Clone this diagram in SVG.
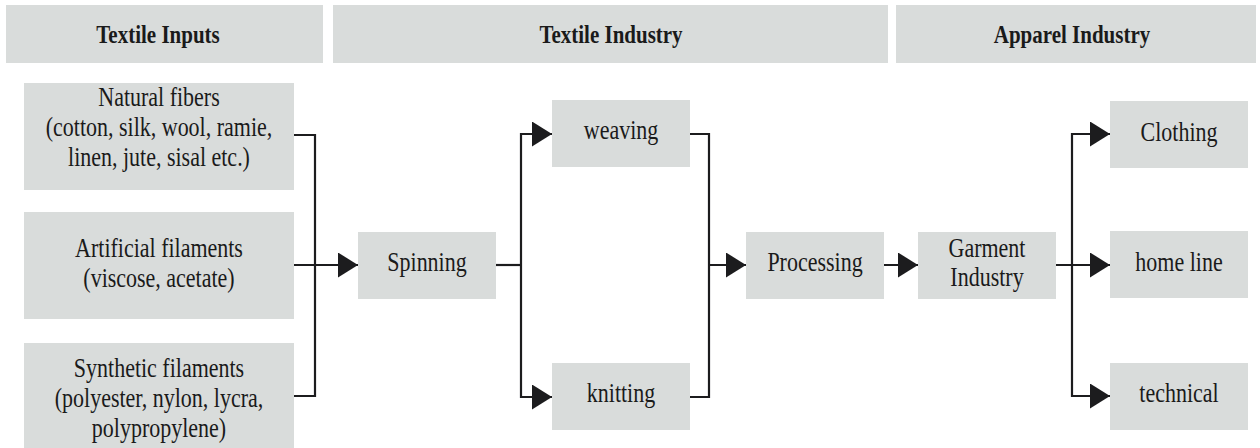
<svg xmlns="http://www.w3.org/2000/svg" width="1260" height="448" viewBox="0 0 1260 448">
<style>
.box{fill:#d9dcdb}
text{font-family:'Liberation Serif','Tinos','DejaVu Serif',serif;fill:#1a1a1a;text-anchor:middle}
.t{font-size:22px}
.h{font-size:21px;font-weight:bold}
.c{fill:none;stroke:#1c1c1e;stroke-width:2.2}
.a{marker-end:url(#arr)}
</style>
<defs>
<marker id="arr" markerUnits="userSpaceOnUse" markerWidth="20" markerHeight="25" refX="20" refY="12.5" orient="auto">
<path d="M0,0 L20,12.5 L0,25 z" fill="#1c1c1e"/>
</marker>
</defs>
<rect width="1260" height="448" fill="#ffffff"/>
<g id="hdr-inputs"><rect class="box" x="6" y="5" width="317" height="58"/><text class="h" font-family="Liberation Serif, serif" transform="translate(158 43) scale(1 1.22)">Textile Inputs</text></g>
<g id="hdr-textile"><rect class="box" x="333" y="5" width="555" height="58"/><text class="h" transform="translate(611 43) scale(1 1.22)">Textile Industry</text></g>
<g id="hdr-apparel"><rect class="box" x="896" y="5" width="360" height="58"/><text class="h" transform="translate(1072 43) scale(1 1.22)">Apparel Industry</text></g>
<g id="connectors">
<path class="c" d="M294,135 H315 V396 H294"/>
<path class="c a" d="M294,265 H358"/>
<path class="c" d="M496,265 H521"/>
<path class="c a" d="M521,265 V134 H552"/>
<path class="c a" d="M521,265 V397 H552"/>
<path class="c" d="M690,134 H709 V397 H690"/>
<path class="c a" d="M709,265 H746"/>
<path class="c a" d="M884,265 H918"/>
<path class="c a" d="M1056,265 H1110"/>
<path class="c a" d="M1072,265 V134 H1110"/>
<path class="c a" d="M1072,265 V396 H1110"/>
</g>
<g id="natural"><rect class="box" x="24" y="83" width="270" height="107"/><text class="t" transform="translate(159 106) scale(1 1.22)"><tspan x="0" y="0">Natural fibers</tspan><tspan x="0" dy="24.6">(cotton, silk, wool, ramie,</tspan><tspan x="0" dy="24.6">linen, jute, sisal etc.)</tspan></text></g>
<g id="artificial"><rect class="box" x="24" y="212" width="270" height="107"/><text class="t" transform="translate(159 257) scale(1 1.22)"><tspan x="0" y="0">Artificial filaments</tspan><tspan x="0" dy="24.6">(viscose, acetate)</tspan></text></g>
<g id="synthetic"><rect class="box" x="24" y="343" width="270" height="107"/><text class="t" transform="translate(159 377) scale(1 1.22)"><tspan x="0" y="0">Synthetic filaments</tspan><tspan x="0" dy="24.6">(polyester, nylon, lycra,</tspan><tspan x="0" dy="24.6">polypropylene)</tspan></text></g>
<g id="spinning"><rect class="box" x="358" y="232" width="138" height="67"/><text class="t" transform="translate(427 271) scale(1 1.22)">Spinning</text></g>
<g id="weaving"><rect class="box" x="552" y="100" width="138" height="67"/><text class="t" transform="translate(621 139) scale(1 1.22)">weaving</text></g>
<g id="knitting"><rect class="box" x="552" y="363" width="138" height="67"/><text class="t" transform="translate(621 402) scale(1 1.22)">knitting</text></g>
<g id="processing"><rect class="box" x="746" y="232" width="138" height="67"/><text class="t" transform="translate(815 271) scale(1 1.22)">Processing</text></g>
<g id="garment"><rect class="box" x="918" y="232" width="138" height="67"/><text class="t" transform="translate(987 257) scale(1 1.22)"><tspan x="0" y="0">Garment</tspan><tspan x="0" dy="23.8">Industry</tspan></text></g>
<g id="clothing"><rect class="box" x="1110" y="101" width="138" height="67"/><text class="t" transform="translate(1179 141) scale(1 1.22)">Clothing</text></g>
<g id="homeline"><rect class="box" x="1110" y="231" width="138" height="67"/><text class="t" transform="translate(1179 271) scale(1 1.22)">home line</text></g>
<g id="technical"><rect class="box" x="1110" y="363" width="138" height="67"/><text class="t" transform="translate(1179 402) scale(1 1.22)">technical</text></g>
</svg>
